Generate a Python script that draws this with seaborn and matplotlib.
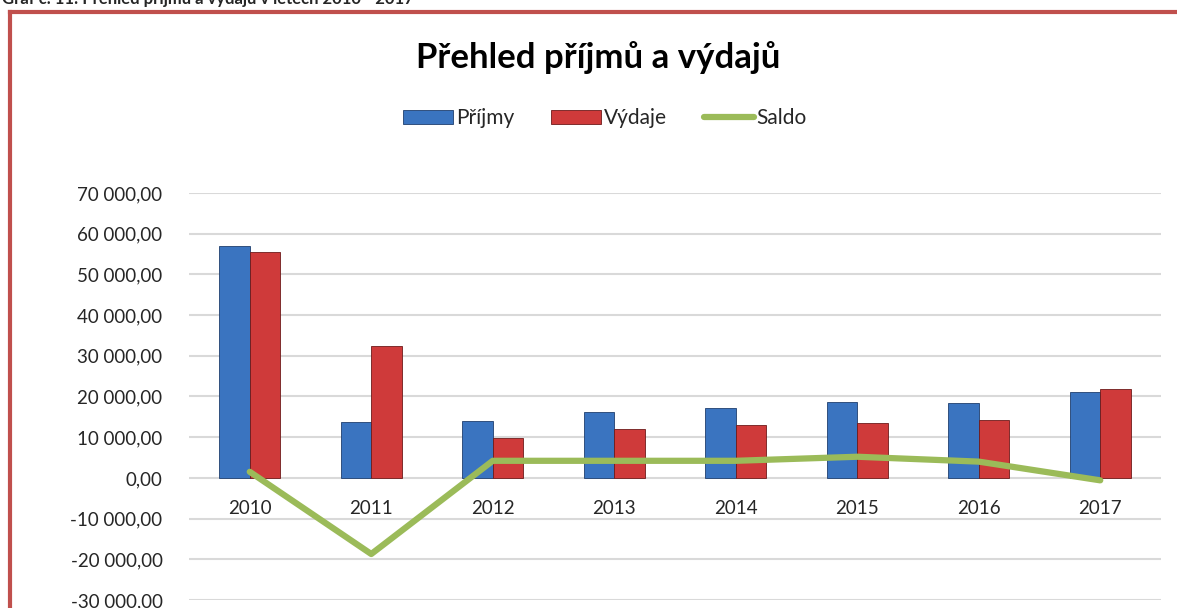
import numpy as np
import pandas as pd
import matplotlib
matplotlib.use("Agg")
import matplotlib.pyplot as plt
from matplotlib.patches import Patch
from matplotlib.lines import Line2D
import seaborn as sns

years = ["2010", "2011", "2012", "2013", "2014", "2015", "2016", "2017"]
prijmy = [57000, 13700, 14000, 16200, 17200, 18600, 18300, 21200]
vydaje = [55500, 32400, 9800, 12000, 13000, 13400, 14300, 21800]
saldo = [1500, -18700, 4200, 4200, 4200, 5200, 4000, -600]
yticks = [-30000, -20000, -10000, 0, 10000, 20000, 30000, 40000, 50000, 60000, 70000]

sns.set_theme(style="white")
plt.rcParams["font.family"] = ["Lato", "DejaVu Sans"]

df = pd.DataFrame({
    "Rok": years * 2,
    "Typ": ["Příjmy"] * len(years) + ["Výdaje"] * len(years),
    "Hodnota": prijmy + vydaje,
})

W, H = 1177, 608
fig = plt.figure(figsize=(W / 100, H / 100), dpi=100)
ax = fig.add_axes([189 / W, 8 / H, (1161 - 189) / W, (600 - 193) / H])

blue = "#3A74C0"
red = "#CF3A3A"
green = "#9BBB59"

ax.set_axisbelow(True)

sns.barplot(data=df, x="Rok", y="Hodnota", hue="Typ", order=years,
            hue_order=["Příjmy", "Výdaje"], palette=[blue, red],
            width=0.5, gap=0, dodge=True, ax=ax, legend=False,
            edgecolor="#5a2020", linewidth=0.6, saturation=1)
for p in ax.patches:
    if p.get_facecolor()[2] > 0.5:
        p.set_edgecolor("#1F3F6E")
    else:
        p.set_edgecolor("#6E1A1A")

sns.lineplot(x=np.arange(len(years)), y=saldo, color=green, linewidth=4.5,
             ax=ax, legend=False, solid_capstyle="round", solid_joinstyle="round")

for s in ax.spines.values():
    s.set_visible(False)
ax.spines["bottom"].set_position(("data", 0))

ax.set_xlim(-0.5, len(years) - 0.5)
ax.set_ylim(-30000, 70000)
ax.set_yticks(yticks)
ax.set_yticklabels([f"{v:,.2f}".replace(",", " ").replace(".", ",") for v in yticks],
                   fontsize=13.5)
ax.set_xticks(np.arange(len(years)))
ax.set_xticklabels(years, fontsize=13.5)
ax.tick_params(axis="x", length=0, pad=16, labelsize=13.5)
ax.tick_params(axis="y", length=0, pad=19)
ax.yaxis.grid(True, color="#D9D9D9", linewidth=1.5)
ax.xaxis.grid(False)
ax.set_xlabel("")
ax.set_ylabel("")

fig.text(598 / W, 1 - 58 / H, "Přehled příjmů a výdajů", ha="center", va="center",
         fontsize=25, fontweight="bold", color="#000000")

handles = [Patch(facecolor=blue, edgecolor="#1F3F6E", linewidth=0.6),
           Patch(facecolor=red, edgecolor="#6E1A1A", linewidth=0.6),
           Line2D([0], [0], color=green, linewidth=4.5, solid_capstyle="round")]
fig.legend(handles, ["Příjmy", "Výdaje", "Saldo"], loc="center",
           bbox_to_anchor=(605 / W, 1 - 118 / H), ncol=3, frameon=False,
           fontsize=15, handlelength=2.4, handleheight=0.67,
           handletextpad=0.15, columnspacing=1.75)

fig.text(2 / W, 1 - 4 / H, "Graf č. 11: Přehled příjmů a výdajů v letech 2010 - 2017",
         ha="left", va="baseline", fontsize=12, fontweight="bold")

border = "#C0504D"
fig.add_artist(Line2D([10 / W, 10 / W], [0, 1 - 12 / H], transform=fig.transFigure,
                      color=border, linewidth=3, solid_capstyle="projecting"))
fig.add_artist(Line2D([10 / W, 1.0], [1 - 12 / H, 1 - 12 / H], transform=fig.transFigure,
                      color=border, linewidth=3, solid_capstyle="projecting"))

fig.savefig("out.png", dpi=100)
